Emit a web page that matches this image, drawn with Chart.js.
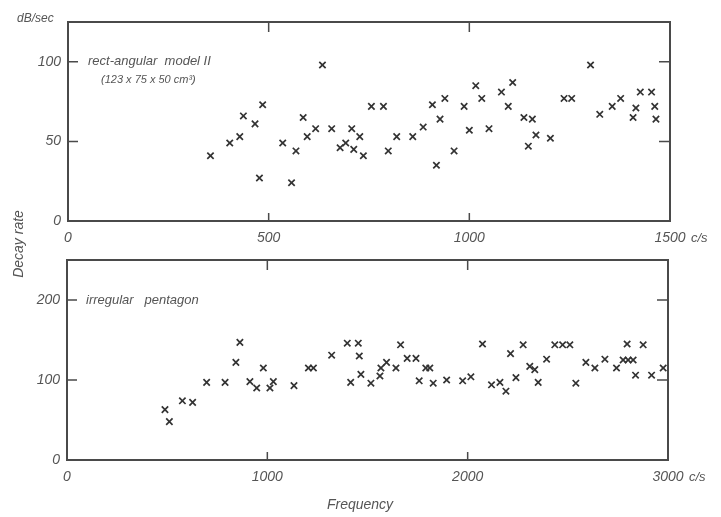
<!DOCTYPE html>
<html><head><meta charset="utf-8">
<script src="https://cdn.jsdelivr.net/npm/chart.js@4/dist/chart.umd.min.js"></script>
<style>
html,body{margin:0;padding:0;background:#fff;}
#wrap{position:relative;width:721px;height:517px;overflow:hidden;}
canvas{position:absolute;left:0;top:0;}
</style></head>
<body><div id="wrap"><canvas id="c1" width="721" height="517"></canvas><canvas id="c2" width="721" height="517"></canvas></div>
<script>
// Top panel: rectangular model II
const topFreq = [355,403,428,437,466,477,485,535,557,568,586,596,617,634,657,678,692,707,712,727,736,756,786,798,819,859,885,908,918,927,939,962,987,1000,1016,1031,1049,1080,1097,1108,1136,1147,1157,1166,1202,1236,1255,1302,1325,1356,1377,1408,1415,1426,1454,1462,1465];
const topRate = [41,49,53,66,61,27,73,49,24,44,65,53,58,98,58,46,49,58,45,53,41,72,72,44,53,53,59,73,35,64,77,44,72,57,85,77,58,81,72,87,65,47,64,54,52,77,77,98,67,72,77,65,71,81,81,72,64];
const topXTicks = [0,500,1000,1500];
const topYTicks = [0,50,100];
// Bottom panel: irregular pentagon
const botFreq = [489,511,576,627,697,789,843,863,913,947,980,1013,1030,1133,1205,1230,1321,1399,1416,1454,1459,1467,1517,1562,1567,1595,1642,1665,1698,1742,1758,1791,1811,1828,1895,1975,2016,2074,2119,2161,2191,2214,2241,2277,2310,2335,2352,2394,2435,2474,2510,2540,2590,2635,2685,2743,2776,2796,2801,2826,2838,2876,2918,2976];
const botRate = [63,48,74,72,97,97,122,147,98,90,115,90,98,93,115,115,131,146,97,146,130,107,96,105,115,122,115,144,127,127,99,115,115,96,100,99,104,145,94,97,86,133,103,144,117,113,97,126,144,144,144,96,122,115,126,115,125,145,125,125,106,144,106,115];
const botXTicks = [0,1000,2000,3000];
const botYTicks = [0,100,200];

const INK = '#333';
const FONT = '"Liberation Sans", "DejaVu Sans", sans-serif';

const framePlugin = {
  id: 'frame',
  afterDraw(chart, args, o) {
    const {ctx, chartArea: a, scales: {x, y}} = chart;
    ctx.save();
    ctx.strokeStyle = '#4a4a4a';
    ctx.lineWidth = 2;
    ctx.strokeRect(a.left, a.top, a.right - a.left, a.bottom - a.top);
    ctx.lineWidth = 1.5;
    o.xInner.forEach(v => {
      const px = x.getPixelForValue(v);
      ctx.beginPath(); ctx.moveTo(px, a.top); ctx.lineTo(px, a.top + 10);
      ctx.moveTo(px, a.bottom); ctx.lineTo(px, a.bottom - 8); ctx.stroke();
    });
    o.yInner.forEach(v => {
      const py = y.getPixelForValue(v);
      ctx.beginPath(); ctx.moveTo(a.left, py); ctx.lineTo(a.left + 10, py);
      ctx.moveTo(a.right, py); ctx.lineTo(a.right - 11, py); ctx.stroke();
    });
    ctx.fillStyle = '#555';
    o.texts.forEach(t => {
      ctx.save();
      ctx.font = t.font;
      ctx.textAlign = t.align || 'left';
      ctx.textBaseline = 'middle';
      ctx.translate(t.x, t.y);
      if (t.rot) ctx.rotate(t.rot);
      ctx.fillText(t.text, 0, 0);
      ctx.restore();
    });
    ctx.restore();
  }
};

function makeChart(id, xs, ys, xTicks, yTicks, xMax, yMax, pad, frameOpts) {
  const pts = xs.map((v, i) => ({x: v, y: ys[i]}));
  return new Chart(document.getElementById(id), {
    type: 'scatter',
    data: {datasets: [{
      data: pts,
      pointStyle: 'crossRot',
      radius: 4.5,
      borderWidth: 1.7,
      borderColor: INK,
      backgroundColor: INK
    }]},
    options: {
      responsive: false,
      animation: false,
      events: [],
      layout: {padding: pad, autoPadding: false},
      plugins: {legend: {display: false}, tooltip: {enabled: false}, frame: frameOpts},
      scales: {
        x: {
          type: 'linear', min: 0, max: xMax,
          afterBuildTicks: s => { s.ticks = xTicks.map(v => ({value: v})); },
          afterFit: s => { s.height = 24; },
          grid: {display: false, drawTicks: false},
          border: {display: false},
          ticks: {padding: 9, color: '#555', maxRotation: 0, autoSkip: false,
                  callback: v => String(v),
                  font: {family: FONT, size: 14, style: 'italic'}}
        },
        y: {
          type: 'linear', min: 0, max: yMax,
          afterBuildTicks: s => { s.ticks = yTicks.map(v => ({value: v})); },
          afterFit: s => { s.width = 40; },
          grid: {display: false, drawTicks: false},
          border: {display: false},
          ticks: {padding: 7, color: '#555', autoSkip: false,
                  callback: v => String(v),
                  font: {family: FONT, size: 14, style: 'italic'}}
        }
      }
    },
    plugins: [framePlugin]
  });
}

const itl = 'italic 13px ' + FONT;
makeChart('c1', topFreq, topRate, topXTicks, topYTicks, 1500, 125,
  {left: 28, right: 51, top: 22, bottom: 272},
  {xInner: [500, 1000], yInner: [50, 100], texts: [
    {text: 'dB/sec', x: 17, y: 19, font: 'italic 12px ' + FONT},
    {text: 'c/s', x: 691, y: 238, font: 'italic 13px ' + FONT},
    {text: 'rect-angular  model II', x: 88, y: 61, font: itl},
    {text: '(123 x 75 x 50 cm\u00b3)', x: 101, y: 80, font: 'italic 11px ' + FONT}
  ]});
makeChart('c2', botFreq, botRate, botXTicks, botYTicks, 3000, 250,
  {left: 27, right: 53, top: 260, bottom: 33},
  {xInner: [1000, 2000], yInner: [100, 200], texts: [
    {text: 'c/s', x: 689, y: 477, font: 'italic 13px ' + FONT},
    {text: 'irregular   pentagon', x: 86, y: 300, font: itl},
    {text: 'Frequency', x: 360, y: 505, font: 'italic 14px ' + FONT, align: 'center'},
    {text: 'Decay rate', x: 19, y: 244, font: 'italic 14px ' + FONT, align: 'center', rot: -Math.PI / 2}
  ]});
</script></body></html>
